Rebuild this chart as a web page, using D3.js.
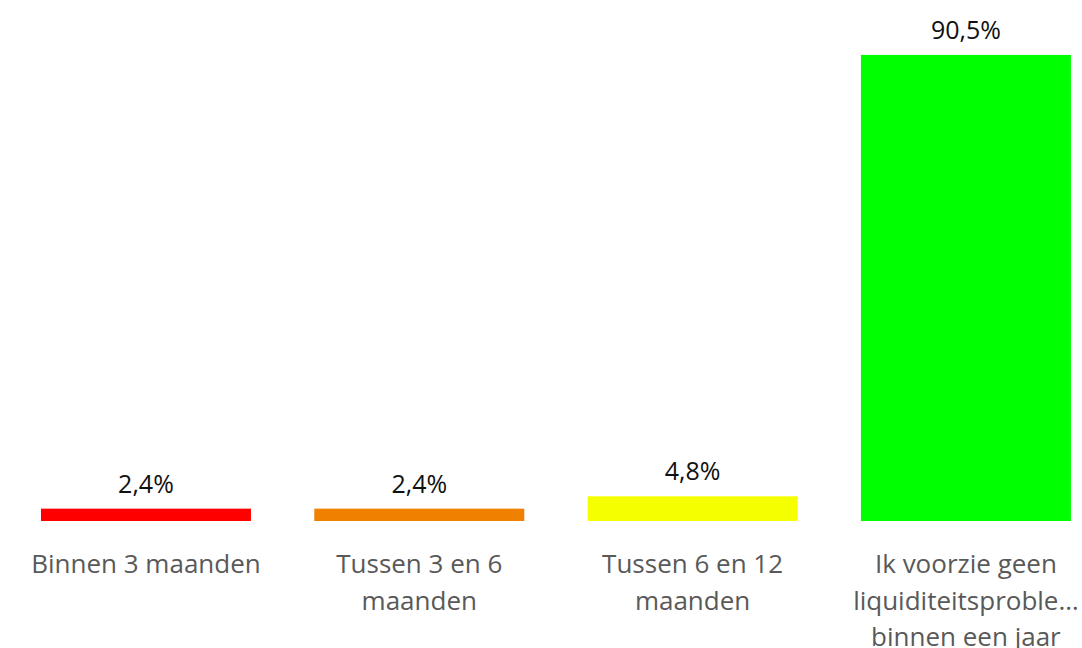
<!DOCTYPE html>
<html>
<head>
<meta charset="utf-8">
<script src="https://cdn.jsdelivr.net/npm/d3@7"></script>
<style>
html,body{margin:0;padding:0;background:#fff;overflow:hidden;}
svg{display:block;}
</style>
</head>
<body>
<svg id="chart" width="1082" height="648"></svg>
<script>
const categories = [
  ["Binnen 3 maanden"],
  ["Tussen 3 en 6", "maanden"],
  ["Tussen 6 en 12", "maanden"],
  ["Ik voorzie geen", "liquiditeitsproble…", "binnen een jaar"]
];
const values = [2.4, 2.4, 4.8, 90.5];
const valueLabels = ["2,4%", "2,4%", "4,8%", "90,5%"];
const colors = ["#FF0000", "#F08000", "#F5FF00", "#00FF00"];

const svg = d3.select("#chart");
const font = "'Open Sans', 'Segoe UI', sans-serif";

const x = d3.scaleBand()
  .domain(d3.range(values.length))
  .range([9.3, 1102.6])
  .paddingInner(0.2317)
  .paddingOuter(0.1159);

const y = d3.scaleLinear().domain([0, 100]).range([521, 6]);

svg.selectAll("rect.bar")
  .data(values)
  .join("rect")
  .attr("class", "bar")
  .attr("x", (d, i) => x(i))
  .attr("width", x.bandwidth())
  .attr("y", d => y(d))
  .attr("height", d => y(0) - y(d))
  .attr("fill", (d, i) => colors[i]);

svg.selectAll("text.val")
  .data(values)
  .join("text")
  .attr("class", "val")
  .attr("x", (d, i) => x(i) + x.bandwidth() / 2)
  .attr("y", d => y(d) - 16)
  .attr("text-anchor", "middle")
  .attr("font-family", font)
  .attr("font-size", 25)
  .attr("fill", "#111")
  .text((d, i) => valueLabels[i]);

const cat = svg.selectAll("text.cat")
  .data(categories)
  .join("text")
  .attr("class", "cat")
  .attr("text-anchor", "middle")
  .attr("font-family", font)
  .attr("font-size", 26)
  .attr("fill", "#595959");

cat.selectAll("tspan")
  .data((d, i) => d.map(t => ({t, i})))
  .join("tspan")
  .attr("x", d => x(d.i) + x.bandwidth() / 2)
  .attr("y", (d, j) => 573 + j * 36.5)
  .text(d => d.t);
</script>
</body>
</html>
